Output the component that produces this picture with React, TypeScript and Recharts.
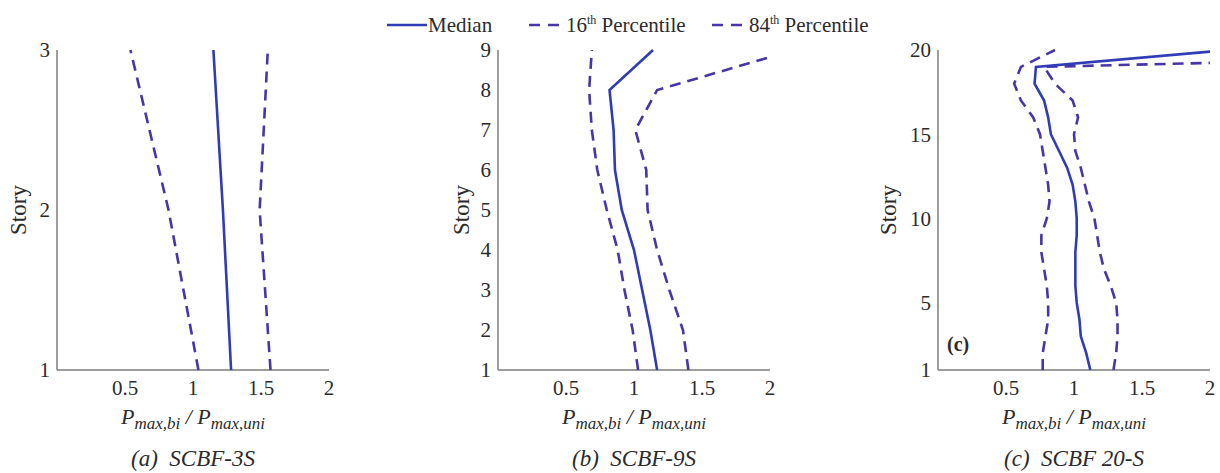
import React from 'react';
import { ScatterChart, Scatter, XAxis, YAxis } from 'recharts';

const xTicks = [0.5, 1, 1.5, 2];

const storiesA = [1, 2, 3];
const medianA = [1.28, 1.22, 1.15];
const p16A = [1.04, 0.82, 0.54];
const p84A = [1.57, 1.49, 1.55];
const yTicksA = [1, 2, 3];

const storiesB = [1, 2, 3, 4, 5, 6, 7, 8, 9];
const medianB = [1.17, 1.12, 1.06, 1.0, 0.91, 0.86, 0.85, 0.82, 1.14];
const p16B = [1.03, 0.99, 0.93, 0.88, 0.8, 0.73, 0.69, 0.67, 0.69];
const p84B = [1.4, 1.36, 1.26, 1.17, 1.1, 1.09, 1.01, 1.17, 2.18];
const yTicksB = [1, 2, 3, 4, 5, 6, 7, 8, 9];

const storiesC = [1, 2, 3, 4, 5, 6, 7, 8, 9, 10, 11, 12, 13, 14, 15, 16, 17, 18, 19, 20];
const medianC = [1.12, 1.09, 1.05, 1.04, 1.02, 1.01, 1.01, 1.01, 1.02, 1.02, 1.01, 0.99, 0.95, 0.89, 0.83, 0.81, 0.78, 0.71, 0.72, 2.14];
const p16C = [0.77, 0.77, 0.79, 0.81, 0.81, 0.8, 0.78, 0.76, 0.76, 0.8, 0.82, 0.81, 0.79, 0.77, 0.75, 0.7, 0.61, 0.56, 0.61, 0.86];
const p84C = [1.29, 1.31, 1.32, 1.32, 1.31, 1.27, 1.22, 1.19, 1.17, 1.15, 1.11, 1.08, 1.05, 1.01, 1.0, 1.03, 0.99, 0.86, 0.78, 6.0];
const yTicksC = [1, 5, 10, 15, 20];

const captions = ['(a)  SCBF-3S', '(b)  SCBF-9S', '(c)  SCBF 20-S'];

const SERIF = 'Liberation Serif, DejaVu Serif, serif';
const MEDIAN_COLOR = '#2f3cb6';
const DASH_COLOR = '#4934a8';
const AXIS_COLOR = '#7d7d7d';
const TEXT_COLOR = '#2b2b2b';
const DASH = '11 7';

const PAD_LEFT = 70;
const PLOT_W = 272;
const CHART_W = PAD_LEFT + PLOT_W + 10;

const toPts = (stories: number[], vals: number[]) =>
  stories.map((s, i) => ({ story: s, value: vals[i] }));

const XLabel = (props: any) => {
  const vb = props.viewBox || { x: 0, width: 0 };
  const cx = vb.x + vb.width / 2;
  return (
    <text x={cx} y={424} textAnchor="middle" fontFamily={SERIF} fontStyle="italic" fill={TEXT_COLOR}>
      <tspan fontSize={22}>P</tspan>
      <tspan fontSize={17} dy={5}>max,bi</tspan>
      <tspan fontSize={22} dy={-5}> / P</tspan>
      <tspan fontSize={17} dy={5}>max,uni</tspan>
    </text>
  );
};

const makeYLabel = (x: number) => (props: any) => {
  const vb = props.viewBox || { y: 0, height: 0 };
  const cy = vb.y + vb.height / 2;
  return (
    <text
      x={x}
      y={cy}
      transform={`rotate(-90, ${x}, ${cy})`}
      textAnchor="middle"
      dominantBaseline="central"
      fontFamily={SERIF}
      fontSize={23}
      fill={TEXT_COLOR}
    >
      Story
    </text>
  );
};

const NoShape = () => <g />;

type PanelProps = {
  plotLeft: number;
  stories: number[];
  median: number[];
  p16: number[];
  p84: number[];
  yTicks: number[];
  storyX: number;
  caption: string;
  showC?: boolean;
};

const Panel = ({ plotLeft, stories, median, p16, p84, yTicks, storyX, caption, showC }: PanelProps) => {
  const yDomain = [stories[0], stories[stories.length - 1]];
  const left = plotLeft - PAD_LEFT;
  return (
    <div style={{ position: 'absolute', left, top: 0, width: CHART_W, height: 473 }}>
      <ScatterChart width={CHART_W} height={473} margin={{ top: 50, right: 10, bottom: 73, left: PAD_LEFT - 40 }}>
        <XAxis
          type="number"
          dataKey="value"
          domain={[0, 2]}
          ticks={xTicks}
          allowDataOverflow
          height={30}
          axisLine={{ stroke: AXIS_COLOR, strokeWidth: 1.5 }}
          tickLine={false}
          tickSize={2}
          tickMargin={8}
          tick={{ fontFamily: SERIF, fontSize: 21, fill: TEXT_COLOR }}
          label={{ content: XLabel }}
        />
        <YAxis
          type="number"
          dataKey="story"
          domain={yDomain}
          ticks={yTicks}
          width={40}
          axisLine={{ stroke: AXIS_COLOR, strokeWidth: 1.5 }}
          tickLine={false}
          tickSize={3}
          tickMargin={4}
          tick={{ fontFamily: SERIF, fontSize: 21, fill: TEXT_COLOR }}
          label={{ content: makeYLabel(storyX - left) }}
        />
        <Scatter
          data={toPts(stories, p16)}
          fill="none"
          line={{ stroke: DASH_COLOR, strokeWidth: 2.6, strokeDasharray: DASH }}
          shape={NoShape}
          isAnimationActive={false}
        />
        <Scatter
          data={toPts(stories, p84)}
          fill="none"
          line={{ stroke: DASH_COLOR, strokeWidth: 2.6, strokeDasharray: DASH }}
          shape={NoShape}
          isAnimationActive={false}
        />
        <Scatter
          data={toPts(stories, median)}
          fill="none"
          line={{ stroke: MEDIAN_COLOR, strokeWidth: 2.6 }}
          shape={NoShape}
          isAnimationActive={false}
        />
      </ScatterChart>
      {showC && (
        <div
          style={{
            position: 'absolute',
            left: PAD_LEFT + 9,
            top: 333,
            fontFamily: SERIF,
            fontSize: 20,
            fontWeight: 'bold',
            color: TEXT_COLOR,
          }}
        >
          (c)
        </div>
      )}
      <div
        style={{
          position: 'absolute',
          left: PAD_LEFT,
          width: PLOT_W,
          top: 446,
          textAlign: 'center',
          fontFamily: SERIF,
          fontStyle: 'italic',
          fontSize: 23,
          whiteSpace: 'pre',
          color: TEXT_COLOR,
          lineHeight: '26px',
        }}
      >
        {caption}
      </div>
    </div>
  );
};

const Legend = () => (
  <svg width={1220} height={50} style={{ position: 'absolute', left: 0, top: 0 }}>
    <line x1={387} y1={25} x2={427} y2={25} stroke={MEDIAN_COLOR} strokeWidth={2.6} />
    <text x={428} y={32} fontFamily={SERIF} fontSize={21} fill={TEXT_COLOR}>Median</text>
    <line x1={529} y1={25} x2={566} y2={25} stroke={DASH_COLOR} strokeWidth={2.6} strokeDasharray="11 8" />
    <text x={566} y={32} fontFamily={SERIF} fontSize={21} fill={TEXT_COLOR}>
      16<tspan fontSize={12} dy={-8}>th</tspan>
      <tspan dy={8}> Percentile</tspan>
    </text>
    <line x1={712} y1={25} x2={749} y2={25} stroke={DASH_COLOR} strokeWidth={2.6} strokeDasharray="11 8" />
    <text x={749} y={32} fontFamily={SERIF} fontSize={21} fill={TEXT_COLOR}>
      84<tspan fontSize={12} dy={-8}>th</tspan>
      <tspan dy={8}> Percentile</tspan>
    </text>
  </svg>
);

export default function App() {
  return (
    <div
      style={{
        position: 'absolute',
        left: 0,
        top: 0,
        width: 1220,
        height: 473,
        background: '#ffffff',
        overflow: 'hidden',
      }}
    >
      <Panel
        plotLeft={57}
        stories={storiesA}
        median={medianA}
        p16={p16A}
        p84={p84A}
        yTicks={yTicksA}
        storyX={18}
        caption={captions[0]}
      />
      <Panel
        plotLeft={498}
        stories={storiesB}
        median={medianB}
        p16={p16B}
        p84={p84B}
        yTicks={yTicksB}
        storyX={461}
        caption={captions[1]}
      />
      <Panel
        plotLeft={938}
        stories={storiesC}
        median={medianC}
        p16={p16C}
        p84={p84C}
        yTicks={yTicksC}
        storyX={888}
        caption={captions[2]}
        showC
      />
      <Legend />
    </div>
  );
}
